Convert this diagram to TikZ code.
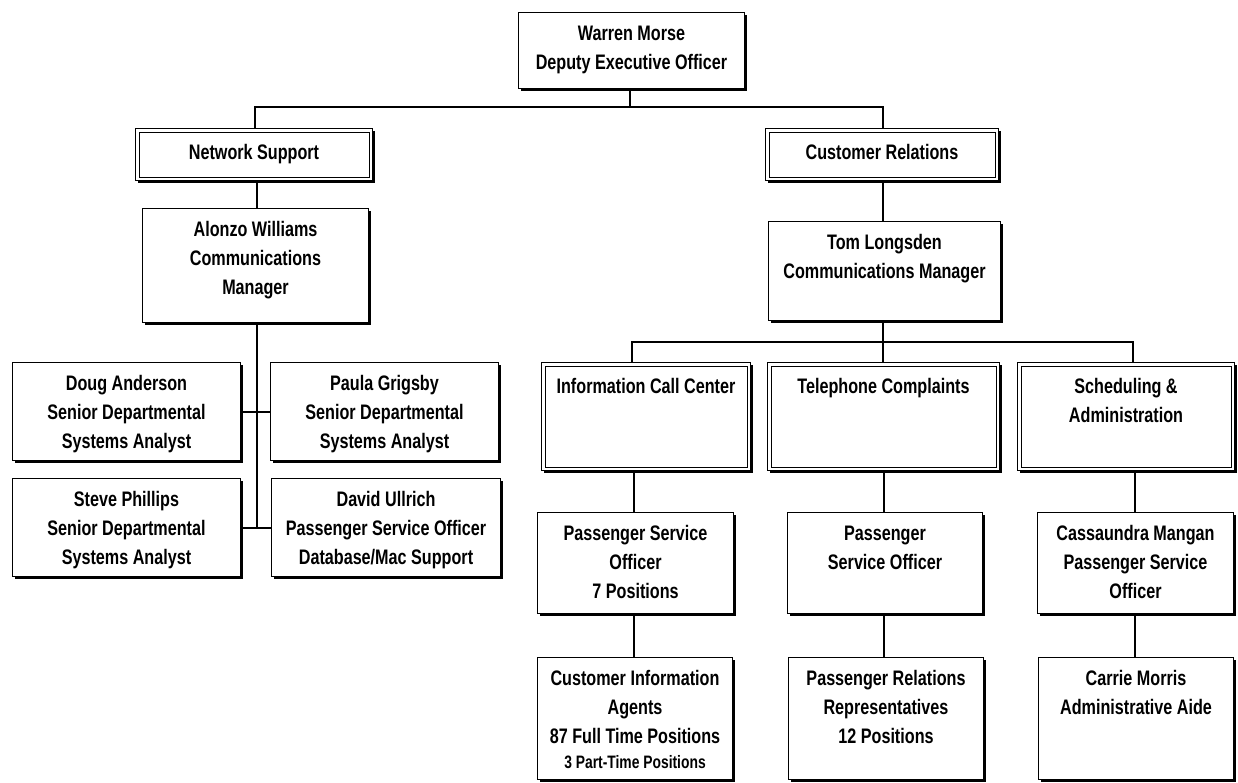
\documentclass[tikz,border=0pt]{standalone}
\usepackage{fontspec}
\setmainfont[FakeStretch=0.77]{Liberation Sans}
\usetikzlibrary{shadows}
\tikzset{
  orgbox/.style={draw=black, line width=1pt, fill=white, inner sep=0pt, anchor=north west,
    drop shadow={shadow xshift=2.5pt, shadow yshift=-2.5pt, fill=black, opacity=1}},
  conn/.style={line width=1.8pt, line cap=rect},
  innerline/.style={line width=0.9pt},
}
\newcommand\boxtext[4]{\begin{minipage}[c][#2pt][t]{#1pt}\centering\bfseries\fontsize{21}{29}\selectfont\vspace*{#3pt}\strut #4\end{minipage}}
\begin{document}
\begin{tikzpicture}[x=1pt,y=-1pt]
\useasboundingbox[fill=white] (0,0) rectangle (1238,782);
% boxes
\node[orgbox] (top) at (518,12) {\boxtext{226}{76}{8}{Warren Morse\\Deputy Executive Officer}};
\node[orgbox] (ns) at (135,128) {\boxtext{237}{52}{11}{Network Support}};
\node[orgbox] (cr) at (765,128) {\boxtext{233}{52}{11}{Customer Relations}};
\node[orgbox] (aw) at (142,208) {\boxtext{226}{114}{8}{Alonzo Williams\\Communications\\Manager}};
\node[orgbox] (tl) at (768,221) {\boxtext{232}{99}{8}{Tom Longsden\\Communications Manager}};
\node[orgbox] (doug) at (12,362) {\boxtext{228}{98}{8}{Doug Anderson\\Senior Departmental\\Systems Analyst}};
\node[orgbox] (paula) at (270,362) {\boxtext{228}{98}{8}{Paula Grigsby\\Senior Departmental\\Systems Analyst}};
\node[orgbox] (steve) at (12,478) {\boxtext{228}{98}{8}{Steve Phillips\\Senior Departmental\\Systems Analyst}};
\node[orgbox] (david) at (271,478) {\boxtext{229}{98}{8}{David Ullrich\\Passenger Service Officer\\Database/Mac Support}};
\node[orgbox] (icc) at (541,362) {\boxtext{209}{108}{11}{Information Call Center}};
\node[orgbox] (tc) at (767,362) {\boxtext{232}{108}{11}{Telephone Complaints}};
\node[orgbox] (sa) at (1017,362) {\boxtext{217}{108}{11}{Scheduling \&\\Administration}};
\node[orgbox] (psoI) at (537,512) {\boxtext{196}{101}{8}{Passenger Service\\Officer\\7 Positions}};
\node[orgbox] (psoT) at (787,512) {\boxtext{195}{101}{8}{Passenger\\Service Officer}};
\node[orgbox] (cm) at (1037,512) {\boxtext{196}{101}{8}{Cassaundra Mangan\\Passenger Service\\Officer}};
\node[orgbox] (cia) at (537,657) {\boxtext{195}{122}{8}{Customer Information\\Agents\\87 Full Time Positions\\[-4pt]{\fontsize{18}{20}\selectfont 3 Part-Time Positions}}};
\node[orgbox] (pr) at (788,657) {\boxtext{195}{122}{8}{Passenger Relations\\Representatives\\12 Positions}};
\node[orgbox] (carrie) at (1038,657) {\boxtext{195}{122}{8}{Carrie Morris\\Administrative Aide}};
% inner lines of double boxes
\foreach \n in {ns,cr,icc,tc,sa}{
  \draw[innerline] ([shift={(4pt,-4pt)}]\n.north west) rectangle ([shift={(-4pt,4pt)}]\n.south east);
}
% connectors
\draw[conn] (630,0 |- top.south) -- (630,107);
\draw[conn] (255,0 |- ns.north) |- (883,107) -- (883,0 |- cr.north);
\draw[conn] (257,0 |- ns.south) -- (257,0 |- aw.north);
\draw[conn] (883,0 |- cr.south) -- (883,0 |- tl.north);
\draw[conn] (257,0 |- aw.south) -- (257,528);
\draw[conn] (doug.east |- 0,412) -- (paula.west |- 0,412);
\draw[conn] (steve.east |- 0,528) -- (david.west |- 0,528);
\draw[conn] (883,0 |- tl.south) -- (883,342);
\draw[conn] (632,0 |- icc.north) |- (1133,342) -- (1133,0 |- sa.north);
\draw[conn] (883,342) -- (883,0 |- tc.north);
\draw[conn] (634,0 |- icc.south) -- (634,0 |- psoI.north);
\draw[conn] (634,0 |- psoI.south) -- (634,0 |- cia.north);
\draw[conn] (884,0 |- tc.south) -- (884,0 |- psoT.north);
\draw[conn] (884,0 |- psoT.south) -- (884,0 |- pr.north);
\draw[conn] (1135,0 |- sa.south) -- (1135,0 |- cm.north);
\draw[conn] (1135,0 |- cm.south) -- (1135,0 |- carrie.north);
\end{tikzpicture}
\end{document}
